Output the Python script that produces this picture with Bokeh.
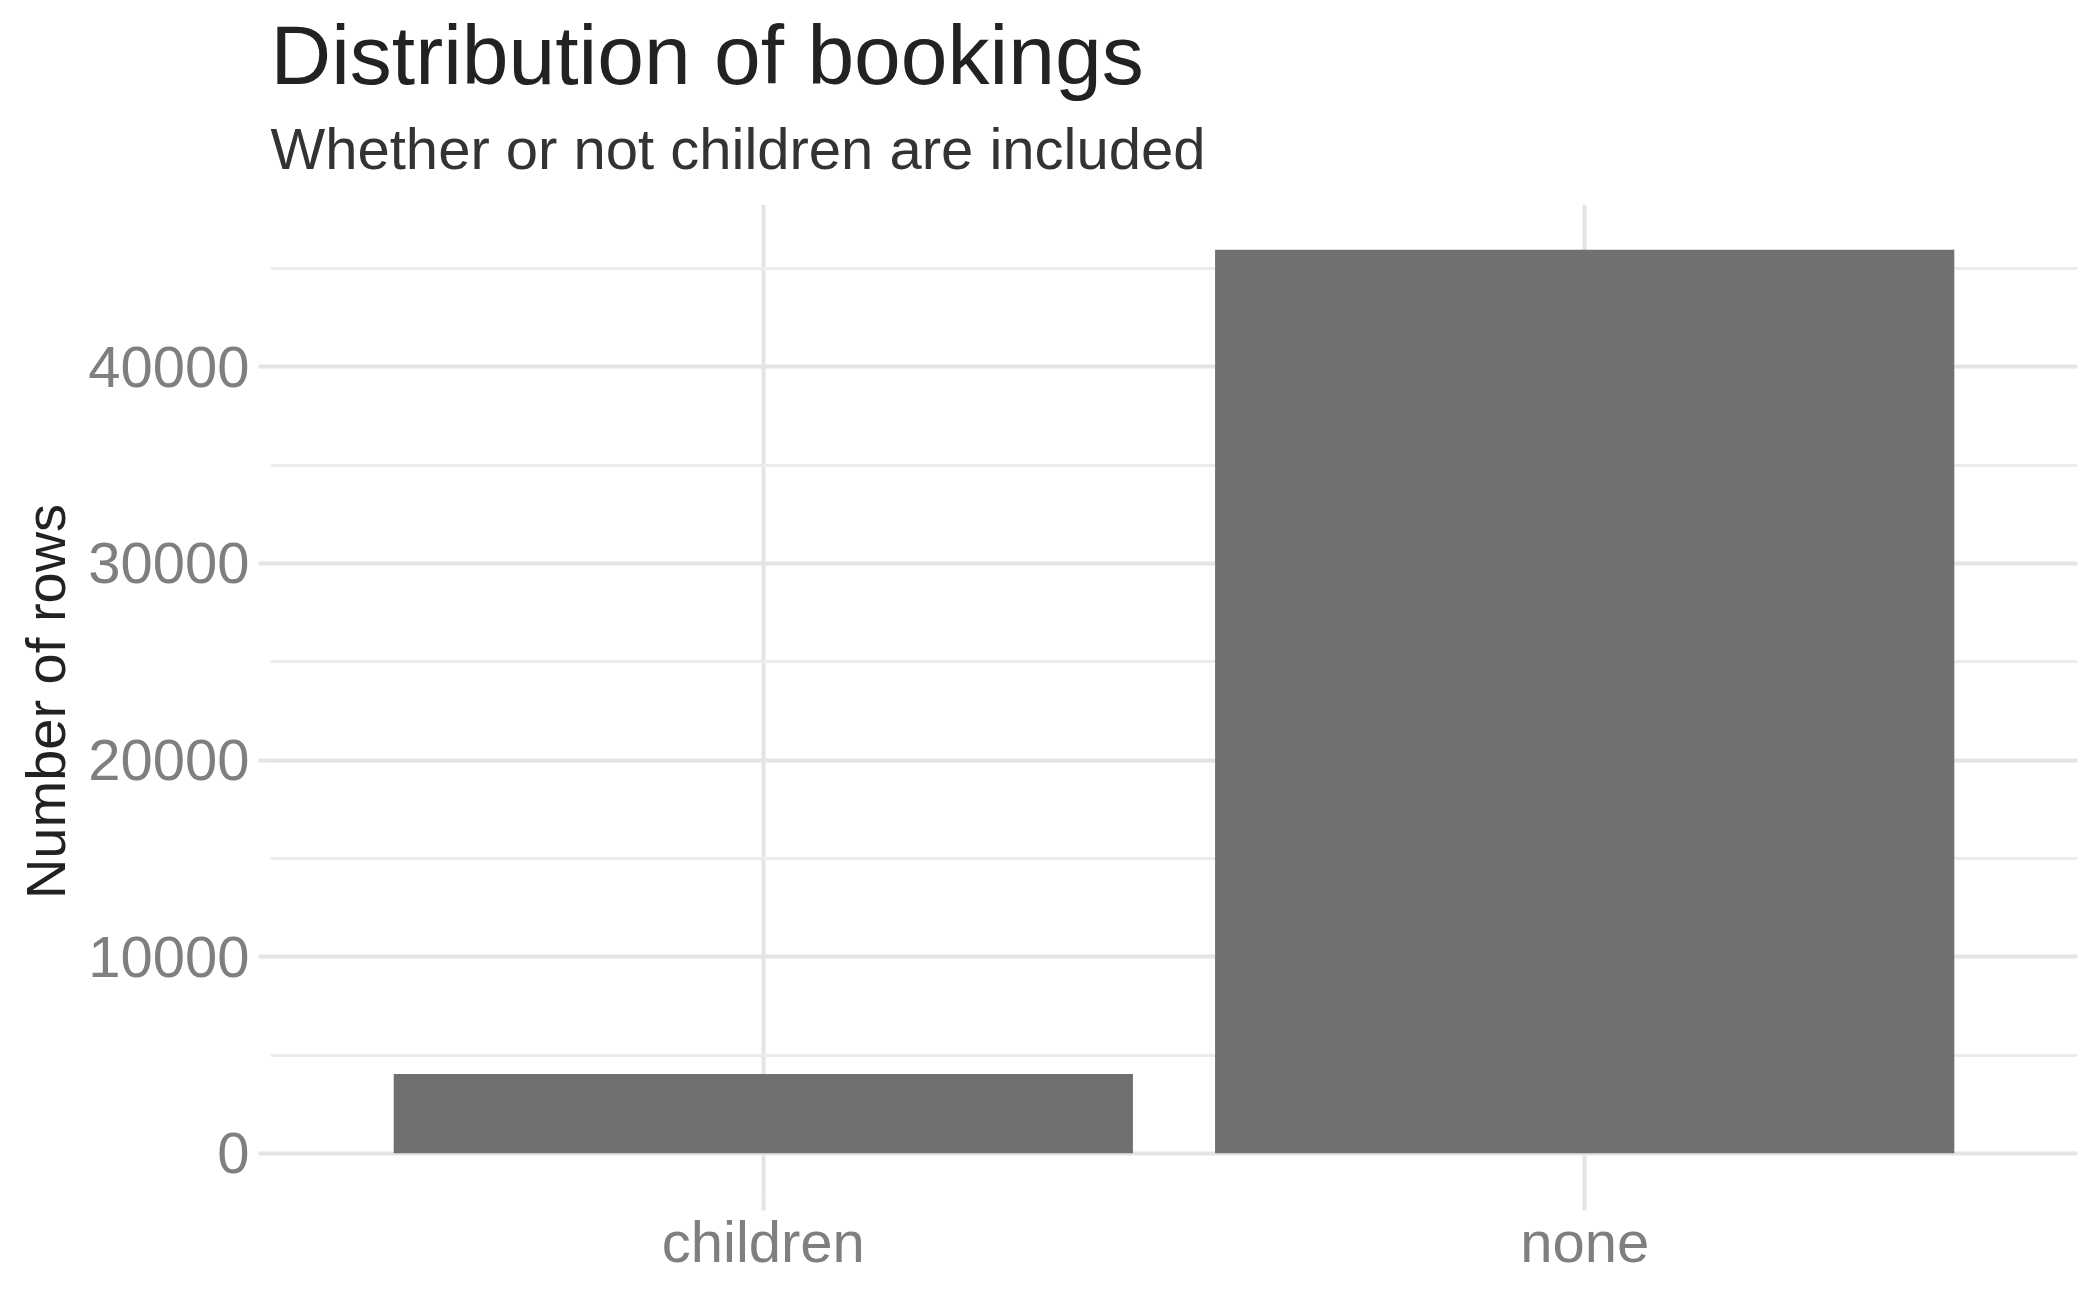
from bokeh.plotting import figure
from bokeh.models import FactorRange, Range1d, SingleIntervalTicker, Title, ColumnDataSource
from bokeh.embed import file_html
from bokeh.resources import INLINE

# ---- data ----
categories = ["children", "none"]
counts = [4039, 45961]
y_tick_interval = 10000

title_text = "Distribution of bookings"
subtitle_text = "Whether or not children are included"
y_label = "Number of rows"

FONT = "Liberation Sans"
GRID_MAJOR = "#e4e4e4"
GRID_MINOR = "#ececec"

ymax = max(counts)
p = figure(
    width=2084, height=1281,
    output_backend="svg", toolbar_location=None, title=None,
    x_range=FactorRange(factors=categories, range_padding=0.1, range_padding_units="absolute"),
    y_range=Range1d(-0.05 * ymax, 1.05 * ymax),
    min_border_left=270, min_border_right=7, min_border_top=204, min_border_bottom=83,
)
p.outline_line_color = None
p.background_fill_color = "white"
p.border_fill_color = "white"

src = ColumnDataSource(dict(cat=categories, n=counts))
p.vbar(x="cat", top="n", bottom=0, width=0.9, source=src,
       fill_color="#707070", line_color=None)

# titles
p.add_layout(Title(text=subtitle_text, text_font=FONT, text_font_size="58px",
                   text_font_style="normal", text_color="#333333",
                   align="left", standoff=47), "above")
p.add_layout(Title(text=title_text, text_font=FONT, text_font_size="84px",
                   text_font_style="normal", text_color="#222222",
                   align="left", standoff=-23), "above")

# y axis
p.yaxis.ticker = SingleIntervalTicker(interval=y_tick_interval, num_minor_ticks=2)
p.yaxis.axis_line_color = None
p.yaxis.major_tick_out = 12
p.yaxis.major_tick_in = 0
p.yaxis.major_tick_line_color = GRID_MAJOR
p.yaxis.major_tick_line_width = 4
p.yaxis.minor_tick_out = 0
p.yaxis.minor_tick_in = 0
p.yaxis.major_label_text_font = FONT
p.yaxis.major_label_text_font_size = "58px"
p.yaxis.major_label_text_color = "#7f7f7f"
p.yaxis.major_label_standoff = 9
p.yaxis.axis_label = y_label
p.yaxis.axis_label_text_font = FONT
p.yaxis.axis_label_text_font_size = "56px"
p.yaxis.axis_label_text_font_style = "normal"
p.yaxis.axis_label_text_color = "#222222"
p.yaxis.axis_label_standoff = 8

# x axis
p.xaxis.axis_line_color = None
p.xaxis.major_tick_out = 12
p.xaxis.major_tick_in = 0
p.xaxis.major_tick_line_color = GRID_MAJOR
p.xaxis.major_tick_line_width = 4
p.xaxis.major_label_text_font = FONT
p.xaxis.major_label_text_font_size = "58px"
p.xaxis.major_label_text_color = "#7f7f7f"
p.xaxis.major_label_standoff = -2

# grids
p.ygrid.grid_line_color = GRID_MAJOR
p.ygrid.grid_line_width = 4
p.ygrid.minor_grid_line_color = GRID_MINOR
p.ygrid.minor_grid_line_width = 3
p.xgrid.grid_line_color = GRID_MAJOR
p.xgrid.grid_line_width = 4

open("out.html", "w").write(file_html(p, INLINE))
